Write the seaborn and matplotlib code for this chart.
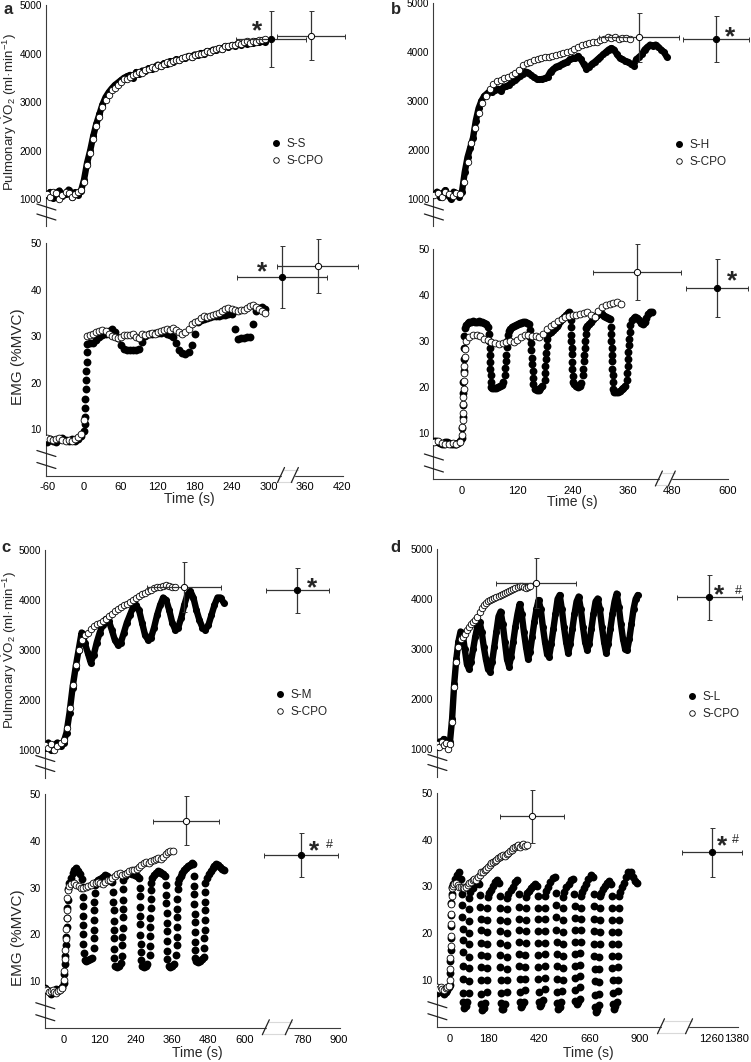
import numpy as np
import matplotlib
matplotlib.use("Agg")
import matplotlib.pyplot as plt
from matplotlib.lines import Line2D
from matplotlib.patches import Polygon
import seaborn as sns

W, H = 751, 1062


def grid(start, step, vals):
    # time stamps of a series at a fixed step
    return start + step * np.arange(len(vals))


def seg(start, step, vals):
    return (grid(start, step, vals), vals)


# ------------------------------------------------------------------ a: S-S
a_ss_vo2 = seg(-60, 5, [
    1080, 1150, 1020, 1130, 1180, 1060, 1110, 1200, 1050, 1140, 1090, 1170,
    1400, 1750, 2000, 2300, 2550, 2750, 2950, 3100, 3200, 3280, 3350, 3400,
    3450, 3500, 3530, 3560, 3500, 3620, 3580, 3650, 3640, 3700, 3680, 3720,
    3770, 3740, 3800, 3790, 3840, 3820, 3880, 3860, 3900, 3910, 3950, 3930,
    3980, 3970, 4010, 4000, 4050, 4030, 4080, 4070, 4110, 4100, 4150, 4130,
    4170, 4160, 4200, 4180, 4220, 4200, 4240, 4210, 4250, 4230, 4260, 4240])
a_cpo_vo2 = seg(-60, 5, [
    1100, 1050, 1150, 1120, 1000, 1080, 1160, 1120, 1040, 1100, 1150, 1200,
    1350, 1700, 1950, 2250, 2500, 2700, 2900, 3050, 3150, 3250, 3300, 3360,
    3420, 3470, 3480, 3520, 3560, 3580, 3620, 3600, 3660, 3680, 3720, 3700,
    3760, 3750, 3790, 3820, 3800, 3850, 3870, 3860, 3900, 3920, 3940, 3930,
    3970, 3990, 4000, 4020, 4050, 4040, 4080, 4090, 4120, 4100, 4150, 4160,
    4180, 4170, 4210, 4200, 4230, 4250, 4220, 4260, 4240, 4280, 4270, 4310])
a_ss_emg = [
    seg(-60, 5, [7.2, 7.8, 7.5, 7.3, 7.9, 8.0, 7.6, 7.4, 7.8, 7.5, 7.9, 8.5]),
    ([0.4, 0.9, 1.4, 1.9, 2.4, 2.9, 3.4, 3.9, 4.4, 4.8],
     [9.5, 11.0, 12.6, 14.5, 16.4, 18.5, 20.6, 22.4, 24.5, 26.5]),
    seg(5, 5, [
        28.3, 28.4, 28.6, 29.2, 29.8, 30.2, 30.5, 31.0, 31.5, 30.8, 29.5, 28.0,
        27.2, 27.0, 27.0, 27.0, 27.0, 27.3, 28.8, 30.0, 30.4, 30.5, 30.6, 30.6,
        30.7, 30.8, 30.5, 30.2, 29.8, 28.5, 27.0, 26.3, 26.2, 26.5, 28.0, 30.5,
        33.0, 33.5, 33.6, 33.8, 34.0, 34.2, 34.3, 34.4, 34.5, 34.6, 34.8, 34.8,
        31.5, 29.3, 29.5, 29.6, 29.8, 29.7, 32.5, 35.3, 36.0, 36.2, 35.8]),
]
a_cpo_emg = [seg(-60, 5, [
    8.0, 7.8, 7.6, 7.9, 8.1, 7.7, 7.5, 7.6, 7.4, 7.8, 8.2, 9.0,
    12.0, 30.0, 30.3, 30.5, 30.8, 31.0, 31.2, 31.0, 30.5, 30.0, 29.8, 29.6,
    29.8, 30.2, 30.3, 30.2, 30.4, 29.8, 29.5, 30.5, 30.2, 30.4, 30.7, 30.5,
    30.8, 31.0, 31.3, 31.5, 31.3, 31.7, 31.2, 30.9, 30.5, 30.8, 31.5, 32.5,
    33.0, 33.3, 33.8, 34.2, 34.0, 34.3, 34.6, 34.8, 35.0, 35.3, 35.8, 36.0,
    35.7, 35.5, 35.4, 35.5, 35.6, 36.0, 36.4, 36.6, 36.3, 35.8, 35.3, 35.0])]
# mean +- SD at exhaustion: (time, time SD, value, value SD)
a_vo2_end = {"S-S": (304, 57, 4300, 580), "S-CPO": (369, 55, 4370, 510)}
a_emg_end = {"S-S": (322, 73, 42.7, 6.7), "S-CPO": (380, 66, 45.0, 5.8)}

# ------------------------------------------------------------------ b: S-H
b_sh_vo2 = seg(-60, 6, [
    1100, 1150, 1050, 1120, 1180, 1080, 1000, 1150, 1100, 1050,
    1150, 1550, 1850, 2050, 2250, 2600, 2850, 3000, 3100, 3150,
    3200, 3180, 3220, 3250, 3200, 3280, 3300, 3330, 3380, 3420,
    3470, 3520, 3560, 3600, 3580, 3530, 3480, 3450, 3440, 3450,
    3460, 3500, 3600, 3650, 3700, 3720, 3750, 3780, 3800, 3850,
    3870, 3880, 3920, 3850, 3750, 3650, 3700, 3760, 3800, 3850,
    3900, 3950, 4000, 4050, 4080, 4050, 3950, 3880, 3850, 3820,
    3800, 3760, 3720, 3850, 3900, 3950, 4050, 4100, 4150, 4120,
    4150, 4100, 4050, 4000, 3900])
b_cpo_vo2 = seg(-60, 8, [
    1080, 1120, 1050, 1150, 1100, 1060, 1120, 1100,
    1350, 1750, 2150, 2450, 2750, 2950, 3100, 3250,
    3350, 3400, 3420, 3460, 3500, 3540, 3580, 3640,
    3730, 3770, 3800, 3830, 3850, 3870, 3890, 3900,
    3920, 3930, 3960, 3980, 4010, 4030, 4060, 4110,
    4150, 4170, 4180, 4200, 4210, 4240, 4270, 4300,
    4280, 4300, 4260, 4290, 4280, 4270])
b_sh_emg = [
    seg(-60, 4, [8.3, 8.2, 8.0, 7.8, 7.5, 7.6, 8.0, 8.1, 7.8, 7.6, 7.7, 7.5, 7.6, 7.8, 8.3]),
    ([0.5, 1, 1.5, 2, 2.5, 3, 3.5, 4, 4.5, 5, 5.5],
     [9.0, 11.1, 13.4, 16.0, 18.6, 21.0, 23.5, 26.1, 28.4, 31.0, 32.9]),
    seg(8, 4, [33.4, 33.9, 34.1, 34.2, 34.3, 34.2, 34.2, 34.3, 34.2, 34.1, 34.0, 33.6, 33.0]),
    ([59, 59.5, 60, 60.5, 61, 61.5, 62, 62.5, 63],
     [31.6, 30.1, 28.4, 27.0, 25.4, 24.0, 22.6, 21.1, 20.0]),
    seg(66, 4, [19.8, 19.7, 19.8, 20.0, 20.2, 20.5, 21.0]),
    ([93, 94, 95, 96, 97, 98, 99], [22.5, 24.1, 25.6, 27.0, 28.6, 30.0, 31.4]),
    seg(101, 4, [32.2, 32.5, 33.0, 33.3, 33.5, 33.7, 33.9, 34.0, 34.1, 34.1, 34.0, 33.8]),
    ([147, 148, 149, 150, 151, 152, 153, 154, 155],
     [32.4, 30.9, 29.5, 28.1, 26.4, 25.0, 23.4, 22.0, 20.6]),
    seg(158, 4, [19.6, 19.3, 19.4, 19.7, 20.2]),
    ([179, 180, 181, 182, 183, 184, 185, 186], [21.5, 23.0, 24.6, 26.0, 27.4, 29.0, 30.4, 31.5]),
    seg(189, 4, [31.8, 32.0, 32.3, 32.8, 33.2, 33.8, 34.3, 34.8, 35.3, 35.7, 36.0, 36.2]),
    ([236, 236.5, 237, 237.5, 238, 238.5, 239, 239.5, 240, 240.5],
     [34.6, 33.0, 31.4, 30.0, 28.5, 27.1, 25.4, 24.0, 22.4, 21.0]),
    seg(243, 4, [20.6, 20.2, 20.0, 20.3, 20.8]),
    ([262, 263, 264, 265, 266, 267, 268, 269], [22.5, 24.0, 25.6, 27.0, 28.5, 30.1, 31.5, 32.8]),
    seg(272, 4, [33.3, 33.8, 34.2, 34.8, 35.2, 35.6, 35.9, 36.0, 35.8, 35.5, 35.3, 35.0, 34.7]),
    ([323, 323.5, 324, 324.5, 325, 325.5, 326, 326.5, 327, 327.5],
     [33.1, 31.5, 30.0, 28.4, 27.0, 25.6, 24.0, 22.5, 21.0, 19.6]),
    seg(330, 4, [19.0, 18.9, 19.0, 19.2, 19.5, 19.8, 20.2]),
    ([357, 358, 359, 360, 361, 362, 363, 364, 365],
     [21.5, 23.0, 24.6, 26.0, 27.5, 29.1, 30.5, 32.0, 33.5]),
    seg(368, 4, [34.5, 35.0, 35.3, 35.1, 34.6, 34.0, 33.8, 34.2, 35.0, 35.8, 36.2, 36.4]),
]
b_cpo_emg = [
    seg(-60, 8, [8.0, 8.3, 7.9, 7.7, 7.5, 7.8, 7.6, 8.0]),
    ([0, 0.6, 1.2, 1.8, 2.4, 3, 3.6, 4.2, 4.8, 5.4, 6, 6.6],
     [9.6, 11.2, 12.9, 14.3, 16.2, 17.9, 19.6, 21.3, 23.1, 24.6, 26.5, 28.3]),
    seg(8, 8, [
        30.0, 30.8, 31.2, 31.3, 31.0, 30.5, 30.2, 29.8, 29.5, 29.3, 29.5, 29.8,
        29.9, 29.8, 30.3, 30.8, 31.2, 31.2, 31.0, 31.0, 30.9, 31.5, 32.6, 33.2,
        33.8, 34.3, 34.8, 35.3, 35.5, 35.6, 35.7, 35.8, 36.0, 36.2, 35.6, 35.2,
        36.6, 37.3, 37.8, 38.0, 38.2, 38.4, 38.0]),
]
b_vo2_end = {"S-H": (575, 72, 4265, 470), "S-CPO": (384, 87, 4306, 500)}
b_emg_end = {"S-H": (577, 67, 41.5, 6.3), "S-CPO": (380, 95, 45.0, 6.0)}

# ------------------------------------------------------------------ c: S-M
c_sm_vo2 = seg(-60, 10, [
    1050, 1150, 1000, 1100, 1150, 1080, 1150, 1350, 1750, 2250,
    2650, 3000, 3350, 3150, 2950, 2750, 2900, 3150, 3350, 3500,
    3620, 3580, 3400, 3200, 3100, 3150, 3350, 3550, 3700, 3850,
    3900, 3800, 3550, 3300, 3200, 3250, 3450, 3700, 3900, 4050,
    4000, 3800, 3550, 3400, 3450, 3650, 3900, 4100, 4180, 4050,
    3800, 3600, 3450, 3400, 3500, 3700, 3900, 4050, 4050, 3950])
c_cpo_vo2 = seg(-60, 10, [
    1100, 1050, 1120, 1000, 1080, 1150,
    1200, 1450, 1850, 2300, 2700, 3000, 3200, 3300, 3350, 3420,
    3480, 3520, 3550, 3580, 3620, 3680, 3730, 3780, 3830, 3870,
    3900, 3930, 3970, 4000, 4040, 4080, 4120, 4150, 4190, 4210,
    4240, 4260, 4270, 4290, 4300, 4280, 4260, 4270])
c_sm_emg = [
    seg(-60, 6, [8.4, 8.0, 7.8, 7.3, 7.6, 7.9, 8.2, 8.0, 8.3, 8.8]),
    ([1, 2.5, 4, 5.5, 7, 8.5, 10, 11.5, 13, 14, 15],
     [9.6, 11.4, 13.6, 15.4, 17.6, 19.5, 21.6, 23.4, 25.6, 27.4, 29.6]),
    seg(18, 6, [31.0, 32.0, 33.0, 33.8, 34.2, 33.6, 32.8, 31.8]),
    ([63, 63.5, 64, 64.5, 65, 65.5, 66, 66.5], [30.1, 28.0, 26.1, 23.9, 22.0, 20.1, 17.9, 16.0]),
    seg(70, 6, [14.4, 14.2, 14.4, 14.8, 15.0]),
    ([100, 100.5, 101, 101.5, 102, 102.5, 103, 103.5], [17.0, 19.1, 20.9, 23.0, 25.1, 27.0, 28.9, 30.5]),
    seg(108, 6, [31.2, 31.6, 31.8, 32.0, 32.3, 32.6, 32.4, 32.0, 31.6, 31.2]),
    ([165, 165.5, 166, 166.5, 167, 167.5, 168, 168.5], [29.1, 27.0, 25.1, 22.9, 21.0, 19.1, 16.9, 15.0]),
    seg(172, 6, [13.2, 13.0, 13.3, 13.8]),
    ([194, 194.5, 195, 195.5, 196, 196.5, 197, 197.5, 198],
     [15.4, 17.6, 19.5, 21.4, 23.6, 25.5, 27.4, 29.6, 31.5]),
    seg(202, 6, [32.5, 32.8, 33.0, 33.0, 32.8, 32.8, 32.6, 32.5, 32.0]),
    ([252, 252.5, 253, 253.5, 254, 254.5, 255, 255.5, 256],
     [30.0, 28.1, 25.9, 24.0, 22.1, 19.9, 18.0, 16.1, 14.5]),
    seg(260, 6, [13.2, 13.0, 13.3, 13.6]),
    ([286, 286.5, 287, 287.5, 288, 288.5, 289, 289.5, 290],
     [15.5, 17.4, 19.6, 21.5, 23.4, 25.6, 27.5, 29.4, 31.0]),
    seg(294, 6, [32.0, 32.6, 33.2, 33.6, 33.4, 33.0, 32.8, 32.5]),
    ([340, 340.5, 341, 341.5, 342, 342.5, 343, 343.5, 344],
     [30.5, 28.4, 26.6, 24.5, 22.4, 20.6, 18.5, 16.4, 14.6]),
    seg(348, 6, [13.2, 13.0, 13.2, 13.6]),
    ([374, 374.5, 375, 375.5, 376, 376.5, 377, 377.5, 378],
     [15.5, 17.6, 19.4, 21.5, 23.6, 25.4, 27.5, 29.6, 31.0]),
    seg(382, 6, [31.8, 32.5, 33.2, 33.8, 34.2, 34.6, 34.9, 35.2, 35.0]),
    ([432, 432.5, 433, 433.5, 434, 434.5, 435, 435.5, 436, 436.5],
     [32.5, 30.4, 28.6, 26.5, 24.4, 22.6, 20.5, 18.4, 16.6, 15.0]),
    seg(440, 6, [14.2, 14.0, 14.3, 14.8, 15.2]),
    ([466, 466.5, 467, 467.5, 468, 468.5, 469, 469.5], [17.0, 19.1, 20.9, 23.0, 25.1, 26.9, 29.0, 31.0]),
    seg(476, 6, [32.0, 32.8, 33.6, 34.2, 34.6, 35.0, 34.8, 34.4, 34.0, 33.8]),
]
c_cpo_emg = [
    seg(-60, 6, [8.2, 8.0, 7.6, 7.9, 8.1, 7.7, 7.4, 7.8, 8.1, 8.6]),
    ([1, 2.5, 4, 5.5, 7, 8.5, 10, 11.5, 13, 14.5],
     [10.3, 12.2, 14.7, 16.6, 19.0, 21.1, 23.4, 25.2, 27.7, 29.5]),
    seg(18, 8, [
        30.4, 30.7, 30.9, 30.6, 30.3, 30.0, 29.8, 30.1, 30.4, 30.6, 30.9, 31.0,
        31.2, 31.0, 30.8, 31.2, 31.5, 31.6, 32.0, 32.5, 32.8, 33.0, 32.7, 32.9,
        33.2, 33.6, 33.8, 33.7, 34.0, 34.3, 34.8, 35.2, 35.4, 35.3, 35.6, 35.9,
        36.1, 36.3, 36.0, 36.6, 37.2, 37.6, 37.9, 37.8]),
]
c_vo2_end = {"S-M": (762, 105, 4200, 450), "S-CPO": (399, 124, 4267, 500)}
c_emg_end = {"S-M": (774, 122, 36.9, 4.75), "S-CPO": (406, 110, 44.3, 5.3)}

# ------------------------------------------------------------------ d: S-L
d_sl_vo2 = seg(-60, 10, [
    1050, 1150, 1100, 1200, 1080, 1150,
    1150, 1600, 2300, 2800, 3150, 3350, 3300, 3000, 2700, 2600,
    2750, 3000, 3250, 3450, 3550, 3350, 3050, 2800, 2600, 2550,
    2750, 3050, 3350, 3650, 3750, 3500, 3150, 2800, 2650, 2850,
    3150, 3450, 3700, 3900, 3700, 3350, 3050, 2800, 2950, 3250,
    3550, 3800, 3980, 3800, 3450, 3150, 2900, 2850, 3100, 3400,
    3700, 4000, 4080, 3800, 3450, 3150, 2920, 3100, 3400, 3700,
    3950, 4050, 3800, 3450, 3150, 2980, 3100, 3400, 3700, 3950,
    4010, 3800, 3450, 3150, 2920, 3100, 3400, 3700, 3950, 4110,
    3850, 3500, 3200, 3000, 2980, 3200, 3500, 3800, 4000, 4080])
d_cpo_vo2 = seg(-60, 10, [
    1100, 1050, 1150, 1080, 1120, 1000,
    1100, 1550, 2250, 2750, 3050, 3200, 3250, 3310, 3380, 3450,
    3500, 3540, 3590, 3640, 3740, 3820, 3880, 3920, 3960, 3980,
    4000, 4020, 4050, 4070, 4090, 4110, 4130, 4150, 4170, 4190,
    4210, 4230, 4250, 4270, 4260, 4240, 4220, 4250, 4270])
d_sl_emg = [
    seg(-60, 8, [7.2, 7.6, 8.0, 7.4, 7.0, 7.5, 7.8, 8.6]),
    ([0, 1, 2, 3, 4, 5, 6, 7, 8, 9], [9.0, 11.5, 14.0, 16.5, 19.0, 21.5, 24.0, 26.5, 28.5, 30.0]),
    ([14, 24, 34, 44, 54], [30.5, 31.5, 32.5, 33.2, 31.5]),
    ([58, 58.5, 59, 59.5, 60, 60.5, 61, 61.5, 62, 62.5],
     [28.5, 26.0, 23.5, 21.0, 18.5, 16.0, 13.0, 10.2, 7.3, 5.2]),
    ([67, 74, 81], [4.0, 4.4, 5.2]),
    ([88, 88.5, 89, 89.5, 90, 90.5, 91, 91.5, 92], [7.2, 9.8, 12.5, 15.0, 17.6, 20.1, 22.7, 25.2, 27.6]),
    ([97, 107, 117, 127, 137], [28.8, 29.6, 30.5, 31.2, 30.6]),
    ([144, 144.5, 145, 145.5, 146, 146.5, 147, 147.5, 148, 148.5],
     [28.2, 25.6, 23.1, 20.6, 18.0, 15.4, 12.8, 10.1, 7.0, 4.9]),
    ([154, 161, 168], [3.6, 4.1, 5.0]),
    ([174, 174.5, 175, 175.5, 176, 176.5, 177, 177.5, 178],
     [7.5, 10.0, 12.6, 15.1, 17.7, 20.2, 22.8, 25.3, 27.7]),
    ([183, 193, 203, 213, 223, 233], [28.6, 29.3, 30.2, 30.9, 31.4, 30.8]),
    ([236, 236.5, 237, 237.5, 238, 238.5, 239, 239.5, 240, 240.5],
     [28.0, 25.4, 22.9, 20.4, 17.9, 15.3, 12.7, 10.0, 7.2, 5.0]),
    ([246, 253, 260], [3.8, 3.9, 4.8]),
    ([268, 268.5, 269, 269.5, 270, 270.5, 271, 271.5, 272],
     [7.4, 9.9, 12.4, 15.0, 17.5, 20.1, 22.6, 25.1, 27.6]),
    ([277, 287, 297, 307, 317], [28.4, 29.2, 30.0, 31.0, 31.4]),
    ([326, 326.5, 327, 327.5, 328, 328.5, 329, 329.5, 330, 330.5],
     [28.3, 25.7, 23.1, 20.6, 18.1, 15.5, 12.9, 10.2, 7.4, 5.3]),
    ([336, 343, 350], [4.2, 4.6, 5.4]),
    ([356, 356.5, 357, 357.5, 358, 358.5, 359, 359.5, 360],
     [7.8, 10.3, 12.8, 15.3, 17.9, 20.4, 22.9, 25.4, 27.8]),
    ([365, 375, 385, 395, 405, 414], [28.6, 29.0, 29.6, 30.2, 30.6, 30.2]),
    ([416, 416.5, 417, 417.5, 418, 418.5, 419, 419.5, 420, 420.5],
     [28.0, 25.5, 23.0, 20.5, 18.0, 15.4, 12.8, 10.2, 7.5, 5.4]),
    ([426, 433, 440], [4.5, 4.9, 5.8]),
    ([448, 448.5, 449, 449.5, 450, 450.5, 451, 451.5, 452],
     [8.0, 10.5, 13.0, 15.5, 18.0, 20.5, 23.0, 25.5, 27.9]),
    ([456, 466, 476, 486, 496], [29.0, 30.0, 31.0, 31.8, 32.0]),
    ([503, 503.5, 504, 504.5, 505, 505.5, 506, 506.5, 507, 507.5],
     [28.6, 26.0, 23.4, 20.8, 18.2, 15.6, 13.0, 10.3, 7.5, 5.1]),
    ([513, 520, 527], [3.9, 4.2, 5.2]),
    ([533, 533.5, 534, 534.5, 535, 535.5, 536, 536.5, 537],
     [7.6, 10.1, 12.6, 15.2, 17.7, 20.2, 22.8, 25.3, 27.8]),
    ([542, 552, 562, 572, 582], [28.8, 29.8, 30.6, 31.3, 31.6]),
    ([590, 590.5, 591, 591.5, 592, 592.5, 593, 593.5, 594, 594.5],
     [28.3, 25.8, 23.2, 20.7, 18.1, 15.6, 13.0, 10.4, 7.8, 5.6]),
    ([600, 607, 614], [4.8, 5.2, 6.0]),
    ([617, 617.5, 618, 618.5, 619, 619.5, 620, 620.5, 621],
     [8.4, 10.8, 13.2, 15.7, 18.1, 20.6, 23.0, 25.5, 27.9]),
    ([626, 636, 646, 656, 666, 676], [28.8, 29.6, 30.6, 31.6, 32.4, 32.0]),
    ([682, 682.5, 683, 683.5, 684, 684.5, 685, 685.5, 686, 686.5],
     [28.5, 25.8, 23.1, 20.4, 17.8, 15.1, 12.4, 9.7, 6.8, 4.2]),
    ([692, 699, 705], [3.2, 3.6, 4.6]),
    ([707, 707.5, 708, 708.5, 709, 709.5, 710, 710.5, 711],
     [7.0, 9.6, 12.3, 15.0, 17.6, 20.2, 22.9, 25.5, 27.9]),
    ([716, 726, 736, 746, 756, 764], [28.6, 29.4, 30.2, 30.8, 31.2, 30.6]),
    ([767, 767.5, 768, 768.5, 769, 769.5, 770, 770.5, 771, 771.5],
     [28.0, 25.4, 22.8, 20.2, 17.7, 15.1, 12.5, 9.9, 7.2, 4.8]),
    ([777, 784, 791], [3.9, 4.4, 5.3]),
    ([796, 796.5, 797, 797.5, 798, 798.5, 799, 799.5, 800],
     [7.6, 10.1, 12.7, 15.2, 17.8, 20.3, 22.9, 25.4, 27.9]),
    ([806, 816, 826, 836, 846, 856, 866, 876, 885],
     [28.8, 29.8, 30.8, 32.0, 33.2, 33.0, 32.0, 31.2, 30.7]),
]
d_cpo_emg = [
    seg(-60, 8, [8.4, 8.1, 8.6, 8.0, 7.8, 8.2, 8.5, 8.8]),
    ([0, 1, 2, 3, 4, 5, 6, 7, 8, 9], [10.1, 12.3, 14.8, 17.2, 19.4, 21.9, 24.1, 26.3, 28.0, 29.6]),
    seg(12, 8, [
        30.1, 30.5, 30.7, 30.4, 30.0, 29.8, 30.0, 29.7, 30.0, 30.4, 30.8, 31.0,
        31.3, 31.5, 31.4, 32.0, 32.5, 33.0, 33.2, 33.5, 33.7, 34.2, 34.6, 35.0,
        35.2, 35.4, 35.7, 36.0, 36.3, 36.5, 36.7, 36.6, 36.9, 37.2, 37.5, 37.8,
        38.2, 38.5, 38.6, 38.9, 38.4, 38.8, 39.0, 38.7, 38.9]),
]
d_vo2_end = {"S-L": (1249, 154, 4033, 453), "S-CPO": (408, 188, 4313, 500)}
d_emg_end = {"S-L": (1263, 142, 37.3, 5.3), "S-CPO": (390, 151, 45.0, 5.7)}

# ------------------------------------------------------------------ layout (pixels)
layout = {
    "a": dict(top=(45.9, 5, 343.4, 226), bot=(45.9, 243, 343.4, 475.5), xlim=(-62, 422),
              shift=0, brk_from=330, brk=(320.5, 343),
              ticks=[-60, 0, 60, 120, 180, 240, 300, 360, 420],
              labels=["-60", "0", "60", "120", "180", "240", "300", "360", "420"], minor=[],
              star_vo2=(281, 4630), star_emg=(290, 45.3), hash_vo2=None, hash_emg=None,
              legend=(276, 146), xlabel=(189, 499)),
    "b": dict(top=(433.4, 3, 728.5, 226), bot=(433.4, 249, 728.5, 479), xlim=(-62, 578),
              shift=24, brk_from=440, brk=(427, 455),
              ticks=[-60, 0, 120, 240, 360, 480, 600],
              labels=["", "0", "120", "240", "360", "480", "600"], minor=[60, 180, 300, 420, 540],
              star_vo2=(581, 4470), star_emg=(586, 44.6), hash_vo2=None, hash_emg=None,
              legend=(679, 147), xlabel=(572, 502)),
    "c": dict(top=(44.8, 550, 339.8, 777.5), bot=(44.8, 794, 339.8, 1027.75), xlim=(-62, 915),
              shift=-12, brk_from=700, brk=(670, 746),
              ticks=[-60, 0, 120, 240, 360, 480, 600, 780, 900],
              labels=["", "0", "120", "240", "360", "480", "600", "780", "900"],
              minor=[60, 180, 300, 420, 540, 660, 840],
              star_vo2=(823, 4400), star_emg=(830, 39.5), hash_vo2=None, hash_emg=(880, 39.9),
              legend=(280, 697), xlabel=(197, 1053)),
    "d": dict(top=(436.9, 549, 738, 776.5), bot=(436.9, 793, 738, 1026.75), xlim=(-62, 1365),
              shift=20, brk_from=1050, brk=(1000, 1133),
              ticks=[-60, 0, 180, 420, 660, 900, 1260, 1380],
              labels=["", "0", "180", "420", "660", "900", "1260", "1380"],
              minor=[60, 120, 240, 300, 360, 480, 540, 600, 720, 780, 840, 960, 1320],
              star_vo2=(1275, 4240), star_emg=(1289, 40.2), hash_vo2=(1365, 4240), hash_emg=(1355, 40.8),
              legend=(692, 699), xlabel=(588, 1053)),
}

panels = [
    ("a", "S-S", a_ss_vo2, a_cpo_vo2, a_ss_emg, a_cpo_emg, a_vo2_end, a_emg_end),
    ("b", "S-H", b_sh_vo2, b_cpo_vo2, b_sh_emg, b_cpo_emg, b_vo2_end, b_emg_end),
    ("c", "S-M", c_sm_vo2, c_cpo_vo2, c_sm_emg, c_cpo_emg, c_vo2_end, c_emg_end),
    ("d", "S-L", d_sl_vo2, d_cpo_vo2, d_sl_emg, d_cpo_emg, d_vo2_end, d_emg_end),
]

# ------------------------------------------------------------------ style
sns.set_style("white")
plt.rcParams["font.family"] = ["Liberation Sans", "DejaVu Sans"]
plt.rcParams["mathtext.fontset"] = "custom"
plt.rcParams["mathtext.rm"] = "Liberation Sans"
plt.rcParams["mathtext.it"] = "Liberation Sans:italic"

fig = plt.figure(figsize=(W / 100, H / 100), dpi=100)
AX_COL = "#3c3c3c"


def add_ax(r):
    x0, y0, x1, y1 = r
    return fig.add_axes([x0 / W, 1 - y1 / H, (x1 - x0) / W, (y1 - y0) / H])


def fig_line(xs, ys, **kw):
    fig.add_artist(Line2D([x / W for x in xs], [1 - y / H for y in ys],
                          transform=fig.transFigure, **kw))


def join(segs):
    t = np.concatenate([np.asarray(s[0], float) for s in segs])
    v = np.concatenate([np.asarray(s[1], float) for s in segs])
    return t, v


def disp(cfg, t):
    return t - cfg["shift"] if t > cfg["brk_from"] else t


def px_x(cfg, rect, t):
    x0, _, x1, _ = rect
    lo, hi = cfg["xlim"]
    return x0 + (t - lo) / (hi - lo) * (x1 - x0)


def style_axis(ax, is_top):
    for s in ("top", "right"):
        ax.spines[s].set_visible(False)
    if is_top:
        ax.spines["bottom"].set_visible(False)
        ax.tick_params(axis="x", which="both", bottom=False, labelbottom=False)
    for s in ("left", "bottom"):
        ax.spines[s].set_color(AX_COL)
        ax.spines[s].set_linewidth(0.8)
    ax.tick_params(axis="both", which="both", direction="out", colors=AX_COL,
                   labelcolor="black", width=0.7)
    ax.tick_params(axis="y", which="major", length=2, labelsize=7.2, pad=0.8)
    ax.tick_params(axis="y", which="minor", length=1.5)
    ax.tick_params(axis="x", which="major", length=3, labelsize=8, pad=2)
    ax.tick_params(axis="x", which="minor", length=2)
    ax.set_xlabel("")
    ax.set_ylabel("")
    ax.patch.set_alpha(0)


def end_cross(ax, cfg, vals, filled):
    x, xe, y, ye = vals
    c = ax.errorbar(disp(cfg, x), y, xerr=xe, yerr=ye, fmt="o", ms=4.5,
                    mfc="black" if filled else "white", mec="black", mew=0.7,
                    ecolor="#333333", elinewidth=0.9, capsize=1.8, capthick=0.9, zorder=6)
    for art in c.lines[0:1] + tuple(c.lines[1]) + tuple(c.lines[2]):
        art.set_clip_on(False)


def star(ax, pos, txt, size):
    ax.annotate(txt, xy=pos, xytext=(0, -0.3 * size), textcoords="offset points",
                ha="center", va="center", fontsize=size,
                fontweight="bold" if txt == "*" else "normal", annotation_clip=False)


for key, proto, vo2_f, vo2_o, emg_f, emg_o, vo2_end, emg_end in panels:
    cfg = layout[key]
    ax_t = add_ax(cfg["top"])
    ax_b = add_ax(cfg["bot"])

    # --- pulmonary VO2 (dense breath-by-breath cloud)
    t, v = join([vo2_f])
    sns.lineplot(x=t, y=v, ax=ax_t, color="black", lw=4.6, sort=False, zorder=2)
    sns.scatterplot(x=t, y=v, ax=ax_t, color="black", s=26, linewidth=0, zorder=3, legend=False)
    t, v = join([vo2_o])
    sns.scatterplot(x=t, y=v, ax=ax_t, color="white", edgecolor="black", s=22,
                    linewidth=0.6, zorder=4, legend=False)
    end_cross(ax_t, cfg, vo2_end[proto], True)
    end_cross(ax_t, cfg, vo2_end["S-CPO"], False)
    ax_t.set_xlim(*cfg["xlim"])
    ax_t.set_ylim(450, 5000)
    ax_t.set_yticks([1000, 2000, 3000, 4000, 5000])
    ax_t.set_yticks([1500, 2500, 3500, 4500], minor=True)
    style_axis(ax_t, True)

    # --- EMG
    t, v = join(emg_f)
    sns.scatterplot(x=t, y=v, ax=ax_b, color="black", s=32, linewidth=0, zorder=3, legend=False)
    t, v = join(emg_o)
    sns.scatterplot(x=t, y=v, ax=ax_b, color="white", edgecolor="black", s=24,
                    linewidth=0.6, zorder=4, legend=False)
    end_cross(ax_b, cfg, emg_end[proto], True)
    end_cross(ax_b, cfg, emg_end["S-CPO"], False)
    ax_b.set_xlim(*cfg["xlim"])
    ax_b.set_ylim(0, 50)
    ax_b.set_yticks([10, 20, 30, 40, 50])
    ax_b.set_yticks([15, 25, 35, 45], minor=True)
    ax_b.set_xticks([disp(cfg, x) for x in cfg["ticks"]], cfg["labels"])
    ax_b.set_xticks([disp(cfg, x) for x in cfg["minor"]], minor=True)
    style_axis(ax_b, False)

    # significance marks
    star(ax_t, cfg["star_vo2"], "*", 19)
    star(ax_b, cfg["star_emg"], "*", 19)
    if cfg["hash_vo2"]:
        star(ax_t, cfg["hash_vo2"], "#", 9)
    if cfg["hash_emg"]:
        star(ax_b, cfg["hash_emg"], "#", 9)

    # legend
    lx, ly = cfg["legend"]
    x0, y0, x1, y1 = cfg["top"]
    handles = [Line2D([], [], ls="", marker="o", ms=4, mfc="black", mec="black"),
               Line2D([], [], ls="", marker="o", ms=4, mfc="white", mec="black", mew=0.6)]
    ax_t.legend(handles, [proto, "S-CPO"], loc="upper left", frameon=False, fontsize=8.5,
                bbox_to_anchor=((lx - 5 - x0) / (x1 - x0), 1 - (ly - 8 - y0) / (y1 - y0)),
                handlelength=0.8, handletextpad=0.5, labelspacing=0.45,
                borderpad=0, borderaxespad=0)

    # broken y axes
    for rect, d1, d2 in ((cfg["top"], 19, 9), (cfg["bot"], 22, 10)):
        sx, yb = rect[0], rect[3]
        for d in (d1, d2):
            fig_line([sx - 9, sx + 10], [yb - d - 3, yb - d + 3], color="#222222", lw=0.9)

    # broken x axis
    xb0, _, _, yb = cfg["bot"]
    p1 = px_x(cfg, cfg["bot"], cfg["brk"][0])
    p2 = px_x(cfg, cfg["bot"], cfg["brk"][1])
    fig.add_artist(Polygon([((p1 + 1) / W, 1 - (yb + 2) / H), ((p2 - 1) / W, 1 - (yb + 2) / H),
                            ((p2 - 1) / W, 1 - (yb - 2) / H), ((p1 + 1) / W, 1 - (yb - 2) / H)],
                           closed=True, transform=fig.transFigure, color="white", zorder=10))
    fig_line([p1 + 3, p2 + 3], [yb - 6, yb - 6], color="#d9d9d9", lw=0.8, zorder=11)
    fig_line([p1 - 3, p2 - 3], [yb + 6, yb + 6], color="#d9d9d9", lw=0.8, zorder=11)
    for p in (p1, p2):
        fig_line([p - 3.5, p + 3.5], [yb + 7, yb - 8], color="#222222", lw=0.9, zorder=12)

    # time axis title
    tx, ty = cfg["xlabel"]
    fig.text(tx / W, 1 - ty / H, "Time (s)", fontsize=10, ha="center", va="center")

# panel letters
for letter, (x, y) in {"a": (8, 9), "b": (396, 9), "c": (6, 548), "d": (395, 548)}.items():
    fig.text(x / W, 1 - y / H, letter, fontsize=12, fontweight="bold", ha="center", va="center")

# y axis titles
vo2_label = r"Pulmonary $\dot{\mathrm{V}}$O$_2$ (ml·min$^{-1}$)"
for x, y in ((9.8, 112), (9.8, 650)):
    fig.text(x / W, 1 - y / H, vo2_label, rotation=90, fontsize=9.6, ha="center", va="center")
for x, y in ((18, 357), (18, 938)):
    fig.text(x / W, 1 - y / H, "EMG (%MVC)", rotation=90, fontsize=11, ha="center", va="center")

fig.savefig("out.png", dpi=100)
